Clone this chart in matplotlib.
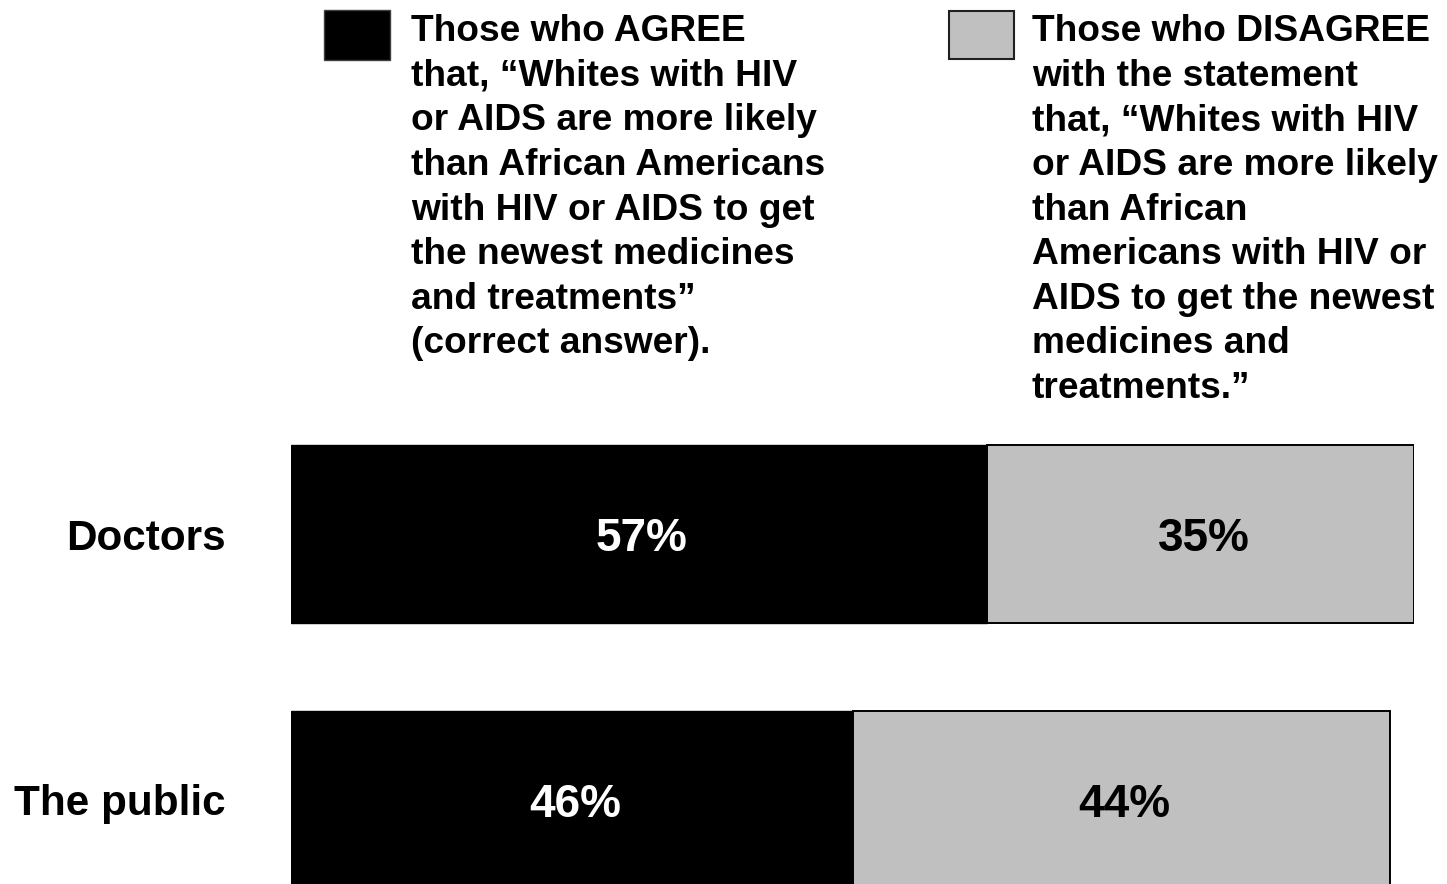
import matplotlib
matplotlib.use("Agg")
import matplotlib.pyplot as plt
from matplotlib.patches import Rectangle

plt.rcParams['font.family'] = ['Liberation Sans', 'DejaVu Sans']
plt.rcParams['font.weight'] = 'bold'

categories = ["Doctors", "The public"]
agree = [57, 46]
disagree = [35, 44]
agree_label = ("Those who AGREE\nthat, \u201cWhites with HIV\nor AIDS are more likely\n"
               "than African Americans\nwith HIV or AIDS to get\nthe newest medicines\n"
               "and treatments\u201d\n(correct answer).")
disagree_label = ("Those who DISAGREE\nwith the statement\nthat, \u201cWhites with HIV\n"
                  "or AIDS are more likely\nthan African\nAmericans with HIV or\n"
                  "AIDS to get the newest\nmedicines and\ntreatments.\u201d")
agree_color = "#000000"
disagree_color = "#C0C0C0"

W, H = 1447, 884
fig = plt.figure(figsize=(W / 100, H / 100), dpi=100)

# axes: x 0..92 maps to px 291..1414; y 0 center at 534, 1 at 800
ax = fig.add_axes([291 / W, 0, 1123 / W, 444 / H])
ypos = list(range(len(categories)))
bh = 178 / 266
ax.barh(ypos, agree, height=bh, color=agree_color, edgecolor="black", linewidth=1.0)
ax.barh(ypos, disagree, left=agree, height=bh, color=disagree_color,
        edgecolor="black", linewidth=1.4)
ax.set_xlim(0, 92)
ax.set_ylim(1 + (884 - 800) / 266, -(534 - 440) / 266)
for s in ax.spines.values():
    s.set_visible(False)
ax.set_xticks([])
ax.set_yticks(ypos)
ax.set_yticklabels(categories, fontsize=30.4, fontweight='bold')
ax.tick_params(axis='y', length=0, pad=47)

for i in ypos:
    ax.text(agree[i] / 2 + 0.25, i + 0.02, f"{agree[i]}%", color="white", ha="center",
            va="center", fontsize=33, fontweight="bold")
    ax.text(agree[i] + disagree[i] / 2 + 0.25, i + 0.02, f"{disagree[i]}%", color="black",
            ha="center", va="center", fontsize=33, fontweight="bold")

# legend
fig.patches.append(Rectangle((324 / W, 1 - 60 / H), 66 / W, 50 / H, transform=fig.transFigure,
                             facecolor=agree_color, edgecolor="#404040", linewidth=1.0))
fig.patches.append(Rectangle((949 / W, 1 - 59 / H), 65 / W, 48 / H, transform=fig.transFigure,
                             facecolor=disagree_color, edgecolor="#202020", linewidth=1.5))
fig.text(411 / W, 1 - 14 / H, agree_label, ha="left", va="top", fontsize=26.7,
         fontweight="bold", linespacing=1.357)
fig.text(1032 / W, 1 - 14 / H, disagree_label, ha="left", va="top", fontsize=26.7,
         fontweight="bold", linespacing=1.357)

fig.savefig("out.png", dpi=100)
